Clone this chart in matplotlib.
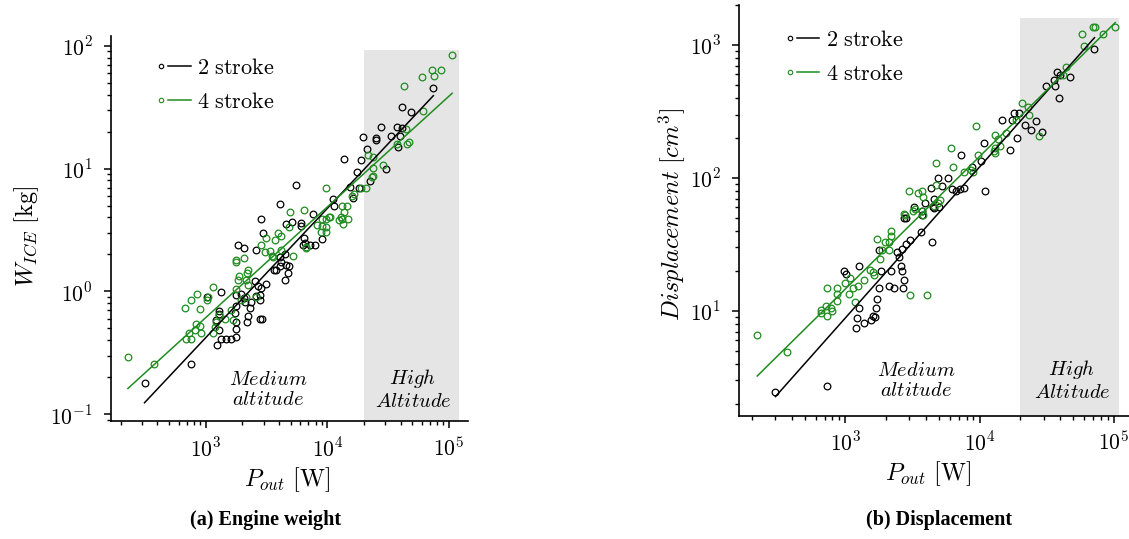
import numpy as np
import matplotlib
matplotlib.use("Agg")
import matplotlib.pyplot as plt
from matplotlib.lines import Line2D
from matplotlib.legend_handler import HandlerBase
from matplotlib.ticker import LogLocator, FuncFormatter, NullFormatter

plt.rcParams['mathtext.fontset'] = 'cm'

# ---------------- data: (a) engine weight ----------------
p2_w = [74300, 40800, 48600, 27400, 37100, 40800, 33100, 19700, 24900, 24900, 39500, 37800,
        21000, 18900, 13700, 30300, 17400, 22600, 15300, 18100, 5510, 16300, 11200, 11400,
        4070, 7640, 2870, 4550, 5130, 6130, 6130, 2970, 9120, 6440, 6530, 7180, 7890, 6320,
        1850, 2050, 2570, 4470, 4070,
        3820, 4200, 4610, 4820, 4060, 3630, 4760, 4470, 3120, 2530, 2700, 2870, 2780, 2820,
        2610, 2380, 2300, 2230, 2200, 2820, 2930, 2120, 2060, 1970, 1790, 1790, 1730, 1770,
        1790, 1770, 1610, 1460, 1330, 1300, 1240, 1220, 1290, 1280, 1330, 1030, 762, 315]
w2 = [45.0, 31.9, 29.1, 21.9, 21.9, 21.3, 18.5, 18.2, 17.8, 17.1, 18.5, 14.9,
      14.4, 11.8, 12.0, 9.94, 9.46, 7.98, 7.14, 6.97, 7.37, 5.78, 5.67, 4.94,
      5.10, 4.28, 3.87, 3.51, 3.66, 3.62, 3.40, 2.98, 2.65, 2.73, 2.49, 2.40, 2.40, 2.40,
      2.40, 2.25, 2.19, 2.00, 1.90,
      1.48, 1.75, 1.65, 1.60, 1.60, 1.48, 1.41, 1.23, 1.15, 1.21, 1.10, 1.07, 0.94, 0.845,
      0.92, 0.82, 0.736, 0.627, 0.563, 0.600, 0.600, 0.82, 0.88, 0.957, 0.93, 0.755, 0.667, 0.563,
      0.491, 0.425, 0.407, 0.407, 0.407, 0.488, 0.369, 0.589, 0.688, 0.65, 0.99, 0.90, 0.254, 0.178]

p4_w = [106000, 72800, 85300, 60200, 75300, 42700, 61500, 44300, 37100, 44900, 47200, 21400,
        23600, 28800, 23800, 23600, 23300, 9730, 18900, 20600, 16600, 16000, 13200, 14400,
        13800, 12900, 13300, 14700, 12500, 13500, 4910, 6440, 8150, 9120, 9840, 10300, 10600,
        9000, 9700, 8790, 9840, 3940, 4140, 3700, 3160, 2870, 3100, 3400, 4190, 4820, 6620,
        6700, 1790, 2050, 3510, 5240,
        230, 380, 672, 754, 855, 904, 1030, 1040, 1140, 837, 893, 813, 910, 730, 754, 684,
        1150, 1190, 1210, 1300, 1430, 1630, 1680, 1790, 1850, 1880, 1790, 2160, 2200, 2230,
        1970, 2160, 2230, 2580, 3570]
w4 = [84.5, 63.8, 63.8, 55.2, 56.3, 46.7, 29.6, 21.0, 15.9, 15.9, 16.4, 12.9,
      12.4, 10.7, 10.1, 8.77, 8.5, 7.01, 6.97, 6.97, 6.23, 5.96, 4.94, 4.94,
      4.41, 4.02, 3.9, 3.9, 3.8, 3.55, 4.47, 4.62, 3.46, 3.90, 3.90, 4.0, 4.0,
      3.4, 3.35, 3.02, 3.04, 2.98, 2.85, 2.60, 2.71, 2.40, 2.09, 2.15, 2.18, 3.33, 2.25,
      2.3, 1.79, 1.88, 1.93, 1.93,
      0.291, 0.254, 0.732, 0.845, 0.957, 0.714, 0.857, 0.9, 1.08, 0.546, 0.523, 0.482, 0.461, 0.458, 0.412, 0.412,
      0.458, 0.513, 0.563, 0.638, 0.600, 0.701, 0.581, 1.05, 1.23, 1.33, 1.72, 1.23, 1.4, 1.5,
      0.857, 0.90, 1.12, 0.90, 1.90]

fit2_w_x = [315, 74300]
fit2_w_y = [0.124, 39.2]
fit4_w_x = [230, 106000]
fit4_w_y = [0.162, 41.0]

# ---------------- data: (b) displacement ----------------
p2_d = [71900, 37800, 35900, 31500, 36700, 47000, 39100, 40000, 18200, 19800, 17400, 14600,
        21800, 24200, 26300, 29300, 18900, 16900, 10800, 7310, 11000, 8770, 10200, 5820, 4910,
        5260, 4360, 6200, 6700, 7100, 7600, 4560, 3890, 3240, 4560, 5000, 2740,
        301, 732, 971, 1010, 1270, 1270, 1230, 1200, 1380, 1560, 1610, 1690, 1720, 1670, 1770,
        1840, 1770, 2180, 2100, 2300, 2690, 2610, 2660, 2730, 2510, 2420, 2660, 2820, 3020,
        3640, 4390, 2820, 3700, 3750, 4500]
d2 = [929, 630, 546, 494, 494, 571, 402, 594, 310, 310, 273, 273,
      250, 229, 268, 223, 201, 162, 182, 149, 79.8, 120, 134, 99.5, 99.5,
      87.6, 83.6, 82, 80, 83, 84, 69.5, 64.5, 60.8, 59.1, 60, 49.8,
      2.47, 2.73, 20.0, 19.0, 21.9, 10.5, 8.85, 7.41, 8.17, 8.5, 9.2, 10.5, 12.3, 8.97, 15.0,
      20.0, 28.8, 19.8, 15.4, 14.8, 14.8, 21.9, 20.0, 17.1, 25.6, 27.9, 29.2, 31.9, 34.2,
      39.4, 32.8, 49.8, 53, 56, 60]

p4_d = [69800, 72700, 102000, 83000, 57900, 59600, 44400, 41900, 27700, 20800, 23100, 23500,
        18700, 15800, 13100, 13800, 14200, 13100, 12700, 13100, 9400, 9660, 6130, 6340, 4700,
        7700, 8700, 8900, 2980, 3470, 3700, 3800, 4700, 5060, 2740, 3300,
        220, 364, 653, 653, 711, 728, 728, 783, 800, 868, 868, 868, 1000, 1090, 1070, 1130,
        1170, 1250, 1380, 1530, 1640, 1600, 1810, 1720, 1870, 1970, 2100, 2100, 2180, 2180,
        3020, 4030, 2770, 3200, 3700, 3800, 4600, 4900]
d4 = [1360, 1360, 1360, 1200, 1200, 988, 687, 594, 207, 368, 340, 298,
      273, 219, 211, 195, 175, 168, 160, 155, 247, 149, 169, 120, 129,
      110, 114, 110, 79.8, 76.7, 80, 72, 88.5, 68.4, 53.3, 58,
      6.60, 4.94, 9.6, 10.2, 10.8, 9.22, 15.0, 10.5, 10, 15.0, 13.3, 11.9, 16.2, 17.8, 13.4, 14.8,
      11.7, 15.4, 17.1, 20.3, 18.7, 19.5, 24.5, 34.7, 28.8, 33.2, 28.8, 33, 40.2, 36.6,
      13.2, 13.2, 52.7, 56, 56, 53, 62, 65]

fit2_d_x = [301, 71900]
fit2_d_y = [2.27, 1135]
fit4_d_x = [220, 102600]
fit4_d_y = [3.24, 1473]

high_alt_x_w = [2e4, 1.2e5]
high_alt_top_w = 93
high_alt_x_d = [2e4, 1.1e5]
high_alt_top_d = 1600

legend_labels = [r"$\mathrm{2\ stroke}$", r"$\mathrm{4\ stroke}$"]
GREEN = '#1f8c1f'
GREY = '#e5e5e5'


class MarkerLineHandler(HandlerBase):
    def create_artists(self, legend, orig_handle, xdescent, ydescent,
                       width, height, fontsize, trans):
        c = orig_handle.get_color()
        y = (height - ydescent) / 2.0
        m = Line2D([-xdescent + 0.12 * width], [y], marker='o', ms=3.2,
                   mfc='none', mec=c, mew=0.8, ls='none', transform=trans)
        l = Line2D([-xdescent + 0.32 * width, -xdescent + width], [y, y],
                   color=c, lw=1.1, transform=trans)
        return [m, l]


def log_fmt(v, pos):
    e = int(round(np.log10(v)))
    return r"$10^{%d}$" % e


def style(ax, xlim, ylim, ypad):
    ax.set_xscale('log')
    ax.set_yscale('log')
    ax.set_xlim(*xlim)
    ax.set_ylim(*ylim)
    for s in ['top', 'right']:
        ax.spines[s].set_visible(False)
    for s in ['left', 'bottom']:
        ax.spines[s].set_linewidth(1.2)
    for axis in (ax.xaxis, ax.yaxis):
        axis.set_major_locator(LogLocator(base=10, numticks=10))
        axis.set_minor_locator(LogLocator(base=10, subs=np.arange(2, 10), numticks=20))
        axis.set_major_formatter(FuncFormatter(log_fmt))
        axis.set_minor_formatter(NullFormatter())
    ax.tick_params(which='major', direction='out', length=5, width=1.1, labelsize=15.5)
    ax.tick_params(which='minor', direction='out', length=3, width=1.0)
    ax.tick_params(axis='y', which='major', pad=ypad)
    ax.tick_params(axis='x', which='major', pad=6)


def draw(ax, p2, v2, p4, v4, f2x, f2y, f4x, f4y, hx, htop, ylim):
    ax.fill_between(hx, [ylim[0]] * 2, [htop] * 2, color=GREY, lw=0, zorder=0)
    ax.plot(p2, v2, ls='none', marker='o', ms=4.8, mfc='none', mec='black', mew=0.9, zorder=3)
    ax.plot(p4, v4, ls='none', marker='o', ms=4.8, mfc='none', mec=GREEN, mew=0.9, zorder=3)
    ax.plot(f2x, f2y, color='black', lw=1.1, zorder=4)
    ax.plot(f4x, f4y, color=GREEN, lw=1.1, zorder=4)
    h2 = Line2D([], [], color='black')
    h4 = Line2D([], [], color=GREEN)
    return [h2, h4]


fig = plt.figure(figsize=(11.29, 5.39), dpi=100)

# (a)
xlim_a = (167, 1.43e5)
ylim_a = (0.088, 120)
ax1 = fig.add_axes([0.0983, 0.2189, 0.3162, 0.7143])
style(ax1, xlim_a, ylim_a, 8)
hs = draw(ax1, p2_w, w2, p4_w, w4, fit2_w_x, fit2_w_y, fit4_w_x, fit4_w_y,
          high_alt_x_w, high_alt_top_w, ylim_a)
ax1.legend(hs, legend_labels, handler_map={Line2D: MarkerLineHandler()},
           frameon=False, loc='upper left', bbox_to_anchor=(0.13, 0.944),
           borderaxespad=0, borderpad=0, fontsize=16, handlelength=1.5,
           handletextpad=0.3, labelspacing=0.65)
ax1.set_xlabel(r"$P_{out}\ \mathrm{[W]}$", fontsize=17.5)
ax1.set_ylabel(r"$W_{ICE}\ \mathrm{[kg]}$", fontsize=17.5)
ax1.xaxis.set_label_coords(0.493, -0.115)
ax1.yaxis.set_label_coords(-0.195, 0.48)
ax1.text(0.44, 0.083, r"$\mathit{Medium}$" + "\n" + r"$\mathit{altitude}$",
         transform=ax1.transAxes, ha='center', va='center', fontsize=14.8, linespacing=1.05)
ax1.text(0.846, 0.083, r"$\mathit{High}$" + "\n" + r"$\mathit{Altitude}$",
         transform=ax1.transAxes, ha='center', va='center', fontsize=14.8, linespacing=1.05)

# (b)
xlim_b = (161, 1.3e5)
ylim_b = (1.63, 2000)
ax2 = fig.add_axes([0.6546, 0.2288, 0.3454, 0.7620])
style(ax2, xlim_b, ylim_b, 8)
hs = draw(ax2, p2_d, d2, p4_d, d4, fit2_d_x, fit2_d_y, fit4_d_x, fit4_d_y,
          high_alt_x_d, high_alt_top_d, ylim_b)
ax2.legend(hs, legend_labels, handler_map={Line2D: MarkerLineHandler()},
           frameon=False, loc='upper left', bbox_to_anchor=(0.12, 0.94),
           borderaxespad=0, borderpad=0, fontsize=16, handlelength=1.5,
           handletextpad=0.3, labelspacing=0.65)
ax2.set_xlabel(r"$P_{out}\ \mathrm{[W]}$", fontsize=17.5)
ax2.set_ylabel(r"$Displacement\ [cm^3]$", fontsize=17.5)
ax2.xaxis.set_label_coords(0.485, -0.105)
ax2.yaxis.set_label_coords(-0.13, 0.49)
ax2.text(0.454, 0.087, r"$\mathit{Medium}$" + "\n" + r"$\mathit{altitude}$",
         transform=ax2.transAxes, ha='center', va='center', fontsize=14.8, linespacing=1.05)
ax2.text(0.854, 0.087, r"$\mathit{High}$" + "\n" + r"$\mathit{Altitude}$",
         transform=ax2.transAxes, ha='center', va='center', fontsize=14.8, linespacing=1.05)

fig.text(0.235, 0.035, "(a) Engine weight", ha='center', va='center',
         family='Liberation Serif', weight='bold', fontsize=14.5)
fig.text(0.832, 0.035, "(b) Displacement", ha='center', va='center',
         family='Liberation Serif', weight='bold', fontsize=14.5)

fig.savefig("out.png", dpi=100)
